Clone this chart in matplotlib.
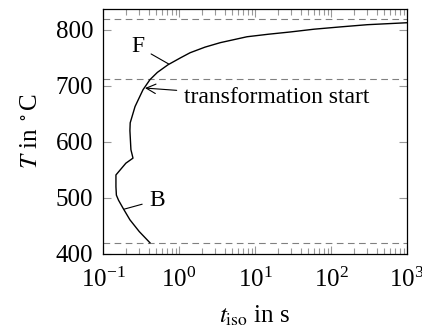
import numpy as np
import matplotlib
matplotlib.use("Agg")
import matplotlib.pyplot as plt
from matplotlib.ticker import LogLocator, NullFormatter

plt.rcParams['font.family'] = ['Liberation Serif', 'DejaVu Serif']
plt.rcParams['mathtext.fontset'] = 'stix'

# transformation start curve (time in s, temperature in °C)
t_start = [0.415, 0.30, 0.226, 0.183, 0.160, 0.150, 0.148, 0.148, 0.20, 0.248, 0.241, 0.233,
           0.226, 0.228, 0.264, 0.336, 0.415, 0.52, 0.716, 1.05, 1.40, 2.2, 3.5, 7.85,
           15, 29, 60, 131, 300, 1000]
T_start = [420, 440, 461, 482, 496, 505, 520, 541, 562, 571, 578, 586,
           620, 634, 663, 693, 711, 724, 737.5, 750, 759, 769, 777, 787.5,
           792, 796, 801, 805, 809, 812.5]

hlines = [420, 713, 819]
xlim = (0.1, 1000)
ylim = (400, 837)
yticks = [400, 500, 600, 700, 800]
xticks = [0.1, 1, 10, 100, 1000]

fig = plt.figure(figsize=(4.22, 3.33), dpi=100)
ax = fig.add_axes([103/422, 1-254/333, (407-103)/422, (254-9)/333])

for h in hlines:
    ax.axhline(h, color='#808080', lw=0.8, ls=(0, (6, 4)))
ax.plot(t_start, T_start, color='black', lw=1.0)

ax.set_xscale('log')
ax.set_xlim(*xlim)
ax.set_ylim(*ylim)
ax.set_yticks(yticks)
ax.set_xticks(xticks)
ax.xaxis.set_minor_locator(LogLocator(base=10, subs=np.arange(2, 10), numticks=20))
ax.xaxis.set_minor_formatter(NullFormatter())
ax.tick_params(which='both', direction='in', top=True, right=True, color='#999999',
               labelsize=18)
ax.tick_params(which='major', length=6, width=0.8)
ax.tick_params(which='minor', length=4, width=0.8)
ax.tick_params(axis='x', pad=10)
ax.tick_params(axis='y', pad=7)
for s in ax.spines.values():
    s.set_linewidth(0.9)

ax.set_xlabel(r'$t_{\mathrm{iso}}$ in s', fontsize=18, labelpad=8)
ax.set_ylabel(r'$T$ in $^\circ$C', fontsize=18, labelpad=10)

ax.annotate('F', xy=(0.73, 739), xytext=(0.29, 770), fontsize=17,
            ha='center', va='center',
            arrowprops=dict(arrowstyle='-', color='black', lw=0.8, shrinkA=3, shrinkB=0))
ax.annotate('transformation start', xy=(0.357, 696), xytext=(1.15, 679), fontsize=17,
            ha='left', va='center',
            arrowprops=dict(arrowstyle='->', color='black', lw=0.8, shrinkA=3, shrinkB=0))
ax.annotate('B', xy=(0.19, 480), xytext=(0.51, 496), fontsize=17,
            ha='center', va='center',
            arrowprops=dict(arrowstyle='-', color='black', lw=0.8, shrinkA=3, shrinkB=0))

fig.savefig('out.png', dpi=100)
